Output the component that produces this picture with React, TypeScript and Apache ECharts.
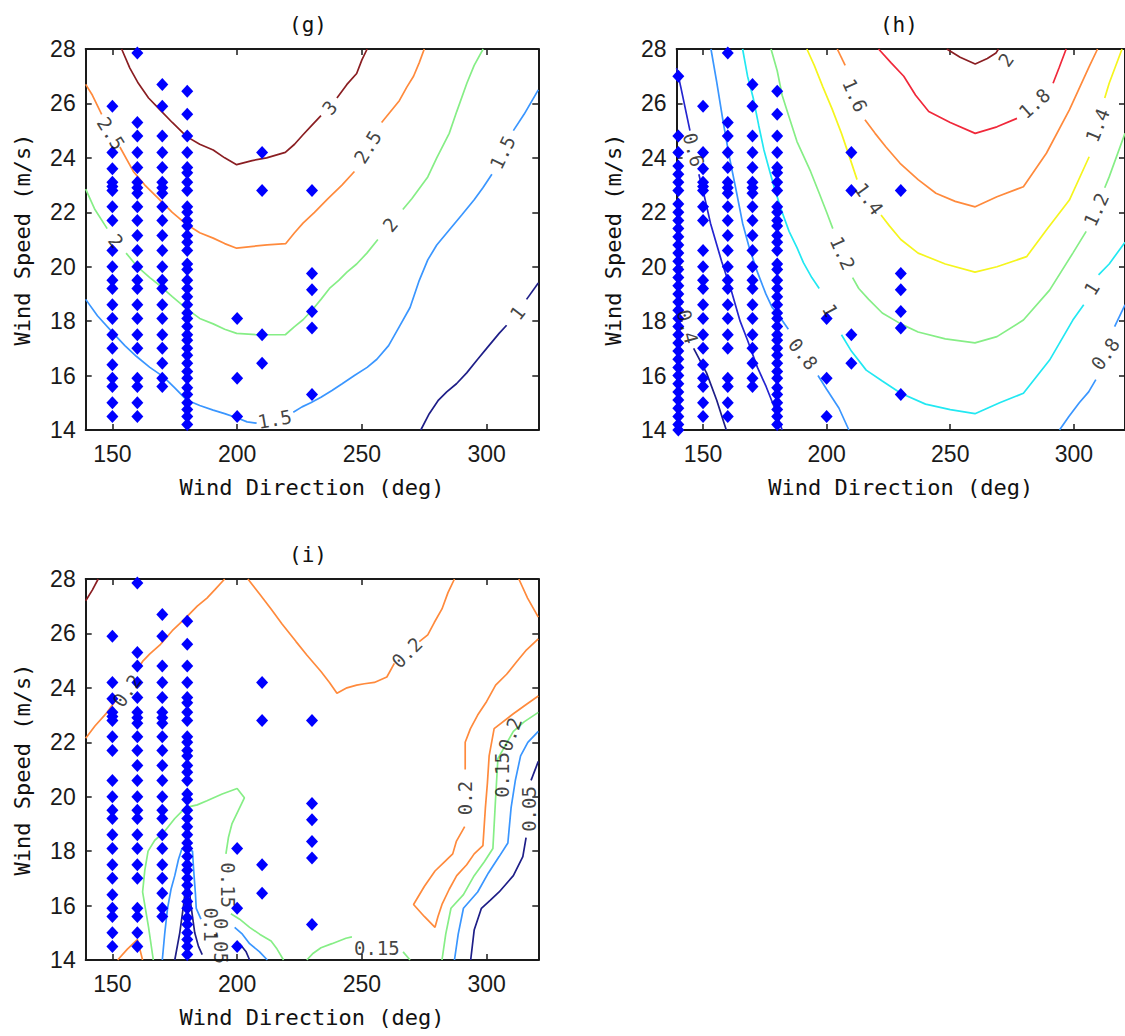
import React, { useEffect, useRef } from "react";
import * as echarts from "echarts";

type Pt = [number, number];
type Seg = Pt[];
type Lab = [string, number, number, number];

// ---------- axes ----------
const xMin = 139.3;
const xMax = 320.7;
const yMin = 14;
const yMax = 28;
const yStep = 2;
const xTickValues = [150, 200, 250, 300];
const titles = ["(g)", "(h)", "(i)"];
const xName = "Wind Direction (deg)";
const yName = "Wind Speed (m/s)";

// ---------- measured points (wind direction columns, wind speed values) ----------
const col140 = [27.0, 24.8, 24.2, 23.7, 23.4, 23.1, 22.8, 22.3, 22.0, 21.7, 21.4, 21.1, 20.8, 20.5, 20.2, 19.9, 19.6, 19.3, 19.0, 18.7, 18.4, 18.1, 17.8, 17.5, 17.2, 16.9, 16.6, 16.3, 16.0, 15.7, 15.4, 15.1, 14.8, 14.5, 14.2, 14.0];
const col150 = [25.9, 24.2, 23.6, 23.1, 22.95, 22.8, 22.2, 21.7, 20.6, 20.0, 19.5, 19.2, 18.6, 18.1, 17.5, 17.0, 16.4, 15.9, 15.6, 15.0, 14.5];
const col160 = [27.85, 25.3, 24.8, 24.2, 23.65, 23.1, 22.9, 22.7, 22.2, 21.7, 21.15, 20.6, 20.0, 19.5, 19.2, 18.6, 18.1, 17.5, 17.0, 15.9, 15.6, 15.0, 14.5];
const col170 = [26.7, 25.9, 24.8, 24.2, 23.65, 23.1, 22.9, 22.7, 22.2, 21.7, 21.15, 20.6, 20.0, 19.5, 19.2, 18.6, 18.1, 17.5, 17.0, 16.45, 15.9, 15.6];
const col180 = [26.45, 25.6, 24.8, 24.2, 23.65, 23.45, 23.1, 22.8, 22.2, 22.0, 21.7, 21.5, 21.15, 20.9, 20.6, 20.1, 19.9, 19.5, 19.2, 18.9, 18.6, 18.3, 18.1, 17.8, 17.5, 17.3, 17.0, 16.75, 16.45, 16.15, 15.9, 15.55, 15.3, 15.0, 14.75, 14.5, 14.2];
const col200 = [18.1, 15.9, 14.5];
const col210 = [24.2, 22.8, 17.5, 16.45];
const col230 = [22.8, 19.75, 19.15, 18.35, 17.75, 15.3];

const colsBase: [number, number[]][] = [
  [150, col150], [160, col160], [170, col170], [180, col180], [200, col200], [210, col210], [230, col230],
];
const colsH: [number, number[]][] = [[140, col140], ...colsBase];

// ---------- (g) contour lines ----------
const g3a: Seg = [[153.7, 28], [157, 27.3], [160.4, 26.74], [164.5, 26.2], [169.1, 25.76], [174, 25.3], [179.8, 24.78], [185, 24.5], [190.4, 24.29], [195, 24.0], [199.8, 23.75], [206, 23.9], [211.8, 24.0], [219.3, 24.2], [223, 24.5], [226.4, 24.85], [230, 25.2], [233.6, 25.55]];
const g3b: Seg = [[240, 26.2], [244, 26.7], [247.9, 27.1], [250, 27.6], [252.1, 28]];
const g25a: Seg = [[139.3, 26.7], [142, 26.3], [145.7, 25.6]];
const g25b: Seg = [[153, 24.4], [158.4, 23.5], [163, 23.0], [169.1, 22.45], [174, 22.0], [179.8, 21.55], [185, 21.25], [190.4, 21.05], [195, 20.85], [199.8, 20.68], [206.4, 20.75], [212, 20.8], [219.5, 20.85], [223, 21.25], [226.4, 21.6], [231, 22.0], [236.4, 22.5], [242, 23.0], [247, 23.5]];
const g25c: Seg = [[257.9, 25.3], [261, 25.65], [265, 26.1], [268, 26.6], [270.7, 27.0], [273, 27.5], [275, 28]];
const g2a: Seg = [[139.3, 22.85], [143, 22.1], [147.9, 21.4]];
const g2b: Seg = [[155.5, 20.5], [160, 20.0], [165, 19.6], [169.1, 19.3], [174, 18.9], [179.8, 18.45], [185, 18.1], [190.4, 17.9], [195, 17.7], [199.8, 17.55], [207.9, 17.5], [213, 17.5], [219.3, 17.5], [223, 17.8], [226.4, 18.05], [230, 18.4], [233.6, 18.8], [237, 19.2], [240.7, 19.5], [244, 19.8], [247.9, 20.1], [252, 20.5], [256.4, 21.0]];
const g2c: Seg = [[266.4, 22.1], [270, 22.5], [276.4, 23.3], [280, 24.0], [285, 24.9], [288, 25.7], [292.1, 26.75], [295, 27.4], [298.6, 28]];
const g15a: Seg = [[139.3, 18.8], [144, 18.2], [150.4, 17.55], [155, 17.1], [159.7, 16.7], [165, 16.3], [170.4, 15.96], [175, 15.55], [179.8, 15.1], [185, 14.9], [190.4, 14.73], [195, 14.6], [199.8, 14.45], [204, 14.3], [207.8, 14.25]];
const g15b: Seg = [[222.5, 14.65], [226, 14.85], [229.5, 15.0], [233.6, 15.2], [238, 15.45], [242.1, 15.7], [247, 16.0], [252.1, 16.3], [256, 16.6], [260.7, 17.1], [265, 17.8], [269.3, 18.5], [273, 19.5], [276.4, 20.25], [280, 20.8], [285, 21.35], [290, 21.9], [295, 22.46], [298.5, 22.9], [302.1, 23.4]];
const g15c: Seg = [[310.7, 25.0], [315, 25.6], [320.7, 26.5]];
const g1a: Seg = [[273.6, 14], [277, 14.6], [280.7, 15.1], [284, 15.4], [287.9, 15.7], [292, 16.1], [296.4, 16.6], [300, 17.0], [305, 17.55], [308, 17.85]];
const g1b: Seg = [[316, 18.8], [320.7, 19.4]];
const gLabels: Lab[] = [
  ["2.5", 149.5, 24.9, -58], ["3", 237, 25.85, 50], ["2.5", 252.3, 24.4, 58], ["2", 151.5, 20.95, -52],
  ["2", 261.3, 21.55, 50], ["1.5", 215, 14.4, 10], ["1.5", 306.3, 24.2, 64], ["1", 312.3, 18.3, 53],
];

// ---------- (h) contour lines ----------
const h04a: Seg = [[139.3, 19.4], [141.3, 18.6]];
const h04b: Seg = [[146.2, 17.0], [151.4, 16.1], [155.5, 15.1], [159.4, 14.0]];
const h06a: Seg = [[139.3, 27.3], [141, 26.6], [144.7, 25.0]];
const h06b: Seg = [[148.3, 23.4], [150.5, 22.6], [153, 21.6], [157.5, 20.2], [161.5, 19.1], [165, 18.0], [168, 17.3], [172, 16.3], [175.5, 15.6], [179, 14.8], [182, 14.0]];
const h08a: Seg = [[153.2, 28], [155.5, 26.8], [158, 25.4], [160.5, 24.1], [163.4, 22.8], [166, 21.6], [168.7, 20.7], [172, 19.8], [175.4, 19.0], [178, 18.5], [180.7, 18.2], [184.5, 17.7]];
const h08b: Seg = [[196.5, 16.0], [200, 15.5], [205, 14.8], [209, 14.0]];
const h08c: Seg = [[294.2, 14], [298, 14.5], [302.2, 15.0], [306, 15.4], [308.9, 15.85]];
const h08d: Seg = [[316.5, 17.8], [320.7, 18.6]];
const h10a: Seg = [[166, 28], [168, 27], [170.3, 26.2], [172.5, 25.2], [174.6, 24.3], [177, 23.5], [179, 22.85], [182, 22.0], [184.8, 21.3], [188, 20.7], [190.6, 20.15], [194, 19.6], [197, 19.2]];
const h10b: Seg = [[206, 17.5], [210, 16.9], [216, 16.2], [222.5, 15.8], [230, 15.35], [240, 14.95], [250, 14.75], [260, 14.6], [270, 15.0], [279.6, 15.35], [290.2, 16.57], [299.6, 18.04], [304, 18.6]];
const h10c: Seg = [[310, 19.7], [314.3, 20.1], [320.7, 20.9]];
const h12a: Seg = [[177.5, 28], [180, 27.2], [182, 26.3], [184.8, 25.5], [188, 24.6], [193.5, 23.5], [197, 22.7], [200, 22.0], [202.5, 21.4]];
const h12b: Seg = [[210.5, 19.6], [213, 19.2], [217, 18.8], [222.5, 18.3], [230, 17.9], [237, 17.6], [248, 17.35], [260, 17.2], [268.9, 17.43], [279.6, 18.04], [290.2, 19.14], [299.6, 20.5], [305, 21.3]];
const h12c: Seg = [[312.5, 22.9], [314.3, 23.3], [320.7, 24.9]];
const h14a: Seg = [[192, 28], [195, 27.4], [198.5, 26.6], [202.2, 25.8], [206, 24.9], [209, 24.1], [212.3, 23.2]];
const h14b: Seg = [[222, 21.9], [225.4, 21.5], [230, 21.0], [237, 20.5], [248, 20.1], [260, 19.8], [268.9, 20.0], [280.9, 20.37], [288.9, 21.35], [298.2, 22.45], [306.2, 24.04]];
const h14c: Seg = [[312.5, 26.2], [314.3, 26.74], [319.5, 28]];
const h16a: Seg = [[204.3, 28], [207.5, 27.4]];
const h16b: Seg = [[215.5, 25.4], [219.6, 24.9], [224, 24.4], [229.7, 23.8], [237, 23.2], [244.2, 22.7], [252, 22.4], [260.1, 22.2], [268.9, 22.57], [279.6, 22.94], [288.9, 24.17], [298.2, 25.76], [306.2, 27.35], [309.6, 28]];
const h18a: Seg = [[221, 28], [226, 27.5], [231.2, 27.0], [236, 26.3], [241.3, 25.7], [250, 25.3], [260.1, 24.9], [268.9, 25.14], [277, 25.45]];
const h18b: Seg = [[291.6, 26.74], [294, 27.3], [296.9, 28]];
const h20a: Seg = [[248.6, 28], [254, 27.7], [260.1, 27.45], [265, 27.65], [268.5, 27.85], [269.5, 28]];
const hLabels: Lab[] = [
  ["0.6", 146.2, 24.3, -75], ["0.4", 143.8, 17.8, -75], ["0.8", 190.5, 16.8, -51], ["1", 201.5, 18.4, -62],
  ["1.2", 206.5, 20.5, -66], ["1.4", 217.2, 22.5, -54], ["1.6", 211.5, 26.3, -66], ["1.8", 284, 26.0, 42],
  ["2", 272.5, 27.6, 55], ["1.4", 309.5, 25.2, 68], ["1.2", 309, 22.1, 65], ["1", 307.2, 19.2, 58], ["0.8", 312.7, 16.8, 55],
];

// ---------- (i) contour lines ----------
const i25a: Seg = [[139.3, 27.2], [142, 27.6], [144.3, 28]];
const i20a: Seg = [[139.3, 22.15], [143, 22.6], [147.9, 23.1], [151, 23.5]];
const i20b: Seg = [[160.5, 24.75], [162.1, 24.97], [165, 25.25], [169.3, 25.6], [174, 26.1], [179.3, 26.56], [184, 27.0], [187.9, 27.3], [191, 27.6], [195, 28]];
const i20c: Seg = [[204.3, 28], [209, 27.45], [213.6, 26.9], [218, 26.35], [223.6, 25.7], [228, 25.2], [233.6, 24.6], [237, 24.2], [240, 23.8], [244, 24.0], [247.9, 24.1], [251, 24.15], [255, 24.2], [260, 24.4], [263, 24.9]];
const i20d: Seg = [[273, 25.7], [276.4, 25.95], [279, 26.4], [282.1, 26.9], [284.5, 27.5], [287.1, 28]];
const i20e: Seg = [[312.9, 28], [316.4, 27.3], [320.7, 26.6]];
const i20f: Seg = [[320.7, 25.8], [316, 25.4], [312.1, 24.97], [308, 24.5], [303.6, 24.1], [300, 23.5], [296.4, 23.0], [293.5, 22.5], [291.4, 22.0], [291.4, 21.0]];
const i20g: Seg = [[291.2, 18.9], [287.9, 18.37], [286.4, 17.9], [283, 17.6], [279.3, 17.27], [275, 16.7], [270.7, 16.04], [275, 15.6], [279.3, 15.2], [280.5, 15.6], [282.1, 16.04], [285, 16.6], [288, 17.1], [292, 17.5], [295, 17.9], [298.5, 18.2], [299.5, 19.6], [300.3, 20.5], [301, 21.5], [303, 22.5], [310.7, 23.05], [316, 23.4], [320.7, 23.7]];
const i20h: Seg = [[152.1, 14], [156, 14.4], [160, 14.75], [161, 14.4], [162.1, 14]];
const i15a: Seg = [[166.4, 14], [164.5, 15.2], [162.1, 16.5], [163, 17.3], [164.3, 18.0], [167, 18.4], [170.7, 18.7], [175, 19.2], [179.3, 19.6], [184, 19.7], [187.9, 19.85], [194, 20.1], [200, 20.3], [202.9, 19.96], [200.5, 19.5], [197.9, 19.0], [196.5, 18.5], [195.5, 17.9]];
const i15b: Seg = [[197.5, 15.7], [201, 15.5], [205, 15.2], [209, 14.95], [213.6, 14.7], [216, 14.4], [218.6, 14]];
const i15c: Seg = [[227.9, 14], [230.5, 14.25], [233.6, 14.45], [238, 14.6], [243.6, 14.8], [246, 14.85]];
const i15d: Seg = [[266.5, 14.3], [269.3, 14]];
const i15e: Seg = [[282.1, 14], [283.6, 14.95], [285.7, 15.9], [290.7, 16.4], [295, 17.1], [299, 17.6], [302.5, 18.1], [303.5, 19.8], [304.5, 21.4], [310.7, 22.4], [315, 22.75], [320.7, 23.1]];
const i10a: Seg = [[170, 14], [171, 15.0], [172.1, 15.9], [173.5, 16.6], [175, 17.1], [176.5, 17.7], [177.9, 18.1], [180, 18.05], [182.1, 18.0], [182.5, 17.4], [182.9, 16.9], [183.3, 16.4], [183.6, 15.9], [185.5, 15.5]];
const i10b: Seg = [[199, 15.2], [202.1, 14.95], [205, 14.6], [209, 14.3], [212.1, 14]];
const i10c: Seg = [[287.1, 14], [288.6, 14.95], [290.7, 15.9], [296.4, 16.5], [300.7, 17.2], [305, 17.8], [308.5, 18.3], [309.8, 19.6], [311.5, 20.6], [313.6, 21.5], [316.5, 22.0], [320.7, 22.4]];
const i05a: Seg = [[175, 14], [177, 15.0], [178.5, 16.0], [179.5, 16.8], [180.5, 16.9], [181.5, 16.0], [183, 15.0], [184.5, 14.5], [186, 14.2]];
const i05b: Seg = [[201, 14.6], [203.6, 14.3], [205, 14]];
const i05c: Seg = [[293.6, 14], [295, 15.1], [297.9, 15.9], [301.5, 16.2], [305, 16.5], [310.7, 17.1], [314.5, 17.8], [315.8, 18.5]];
const i05d: Seg = [[317.8, 20.6], [320.7, 21.3]];
const iLabels: Lab[] = [
  ["0.2", 155.8, 23.9, 55], ["0.2", 268, 25.3, 45], ["0.2", 291.2, 19.95, 90], ["0.15", 196.4, 16.75, -90],
  ["0.15", 256, 14.45, 0], ["0.15", 306.3, 20.8, 90], ["0.2", 309.3, 22.3, 70], ["0.05", 316.8, 19.55, 90],
  ["0.1", 189.5, 15.3, -90], ["0.05", 193.5, 14.7, -90],
];

// ---------- colours (jet-like contour palette) ----------
const C = {
  navy: "#1e1e88",
  blue: "#2525d0",
  azure: "#3a96ff",
  cyan: "#22e8f2",
  green: "#86ee86",
  yellow: "#f5f51e",
  orange: "#ff8a3c",
  red: "#f0283a",
  maroon: "#8a1e22",
};

const gLines: [string, Seg[]][] = [
  [C.maroon, [g3a, g3b]], [C.orange, [g25a, g25b, g25c]], [C.green, [g2a, g2b, g2c]],
  [C.azure, [g15a, g15b, g15c]], [C.navy, [g1a, g1b]],
];
const hLines: [string, Seg[]][] = [
  [C.navy, [h04a, h04b]], [C.blue, [h06a, h06b]], [C.azure, [h08a, h08b, h08c, h08d]],
  [C.cyan, [h10a, h10b, h10c]], [C.green, [h12a, h12b, h12c]], [C.yellow, [h14a, h14b, h14c]],
  [C.orange, [h16a, h16b]], [C.red, [h18a, h18b]], [C.maroon, [h20a]],
];
const iLines: [string, Seg[]][] = [
  [C.maroon, [i25a]], [C.orange, [i20a, i20b, i20c, i20d, i20e, i20f, i20g, i20h]],
  [C.green, [i15a, i15b, i15c, i15d, i15e]], [C.azure, [i10a, i10b, i10c]], [C.navy, [i05a, i05b, i05c, i05d]],
];

const GRIDS = [
  { left: 85.7, top: 49, width: 452.6, height: 381 },
  { left: 676.6, top: 49, width: 452.6, height: 381 },
  { left: 85.7, top: 579, width: 452.6, height: 381 },
];

const TICK_FONT = "Liberation Sans";
const MONO = "DejaVu Sans Mono";

function buildOption() {
  const xAxis: any[] = [];
  const yAxis: any[] = [];
  const series: any[] = [];
  const graphic: any[] = [];
  const panelLines = [gLines, hLines, iLines];
  const panelLabels = [gLabels, hLabels, iLabels];
  const panelCols = [colsBase, colsH, colsBase];

  GRIDS.forEach((g, gi) => {
    const axisLine = { show: true, onZero: false, lineStyle: { color: "#1a1a1a", width: 2 } };
    const tick = { show: true, inside: true, length: 6, lineStyle: { color: "#1a1a1a", width: 1.5 } };
    xAxis.push({
      type: "value", gridIndex: gi, position: "bottom", min: xMin, max: xMax,
      axisLine, axisTick: { ...tick, customValues: xTickValues },
      axisLabel: { customValues: xTickValues, fontFamily: TICK_FONT, fontSize: 23, color: "#1a1a1a", margin: 12 },
      splitLine: { show: false },
      name: xName, nameLocation: "middle", nameGap: 46,
      nameTextStyle: { fontFamily: MONO, fontSize: 22, color: "#111" },
    });
    xAxis.push({
      type: "value", gridIndex: gi, position: "top", min: xMin, max: xMax,
      axisLine, axisTick: { ...tick, customValues: xTickValues },
      axisLabel: { show: false }, splitLine: { show: false },
    });
    yAxis.push({
      type: "value", gridIndex: gi, position: "left", min: yMin, max: yMax, interval: yStep,
      axisLine, axisTick: tick,
      axisLabel: { fontFamily: TICK_FONT, fontSize: 23, color: "#1a1a1a", margin: 10 },
      splitLine: { show: false },
      name: yName, nameLocation: "middle", nameGap: 52,
      nameTextStyle: { fontFamily: MONO, fontSize: 22, color: "#111" },
    });
    yAxis.push({
      type: "value", gridIndex: gi, position: "right", min: yMin, max: yMax, interval: yStep,
      axisLine, axisTick: tick, axisLabel: { show: false }, splitLine: { show: false },
    });

    const xi = gi * 2;
    const yi = gi * 2;
    panelLines[gi].forEach(([color, segs]) => {
      segs.forEach((seg) => {
        series.push({
          type: "line", xAxisIndex: xi, yAxisIndex: yi, data: seg,
          showSymbol: false, symbol: "none", silent: true, z: 2,
          lineStyle: { color, width: 1.7 },
        });
      });
    });
    const pts: Pt[] = [];
    panelCols[gi].forEach(([x, ys]) => ys.forEach((y) => pts.push([x, y])));
    series.push({
      type: "scatter", xAxisIndex: xi, yAxisIndex: yi, data: pts,
      symbol: "diamond", symbolSize: [12, 13], itemStyle: { color: "#0000ff", opacity: 1 }, silent: true, z: 4,
    });
    series.push({
      type: "scatter", xAxisIndex: xi, yAxisIndex: yi, symbolSize: 1, silent: true, z: 5,
      itemStyle: { color: "rgba(0,0,0,0)" },
      label: { show: true, position: "inside", formatter: "{b}", fontFamily: MONO, fontSize: 19, color: "#111" },
      data: panelLabels[gi].map(([t, x, y, r]) => ({ name: t, value: [x, y], label: { rotate: r } })),
    });

    graphic.push({
      type: "text", x: g.left + g.width / 2 - 4, y: g.top - 24,
      style: { text: titles[gi], font: `21px "${MONO}"`, fill: "#111", align: "center", verticalAlign: "middle" },
    });
  });

  return {
    animation: false,
    backgroundColor: "#ffffff",
    grid: GRIDS.map((g) => ({ ...g, containLabel: false })),
    xAxis, yAxis, series, graphic,
  };
}

export default function App() {
  const ref = useRef<HTMLDivElement>(null);
  useEffect(() => {
    if (!ref.current) return;
    const chart = echarts.init(ref.current, undefined, { renderer: "svg" });
    chart.setOption(buildOption() as any);
    return () => chart.dispose();
  }, []);
  return (
    <div
      ref={ref}
      style={{ position: "absolute", left: 0, top: 0, width: 1125, height: 1036, background: "#fff", overflow: "hidden" }}
    />
  );
}
